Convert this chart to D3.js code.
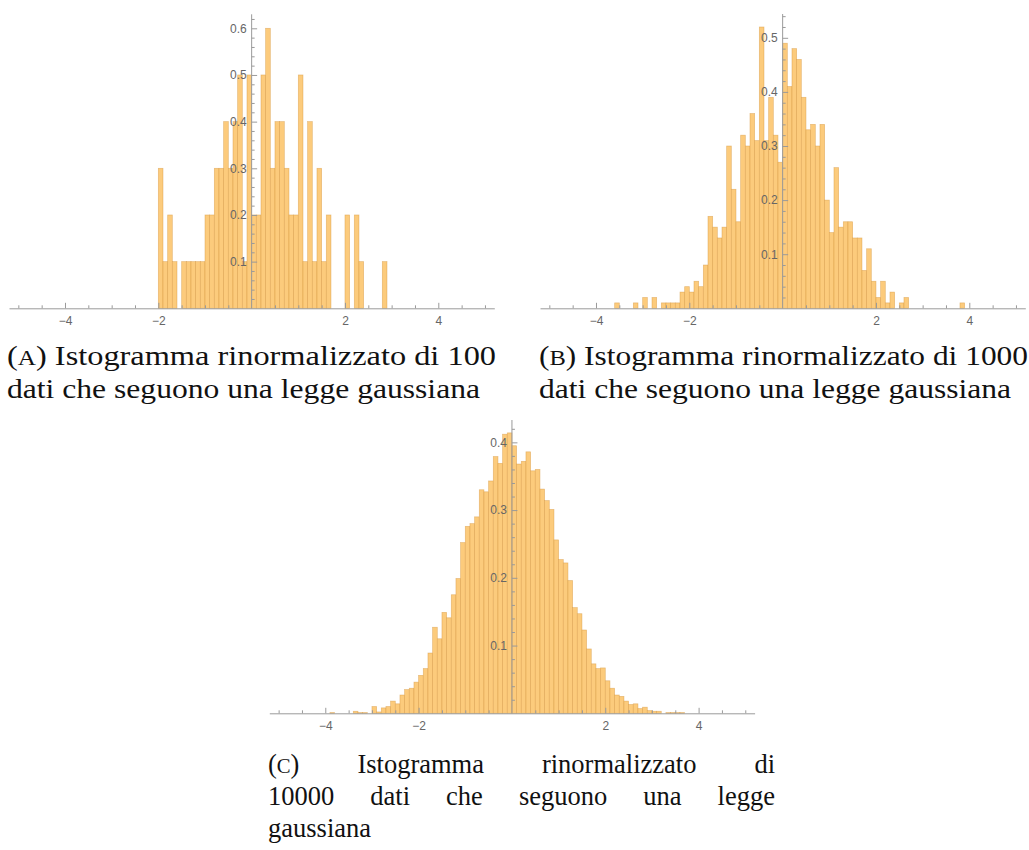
<!DOCTYPE html>
<html>
<head>
<meta charset="utf-8">
<script src="https://cdn.jsdelivr.net/npm/d3@7"></script>
<style>
  html, body { margin: 0; padding: 0; background: #fff; }
  svg { display: block; }
</style>
</head>
<body>
<svg id="chart" width="1029" height="850"></svg>
<script>
// Renormalised histograms (bin width 0.1) of Gaussian samples of size 100, 1000, 10000.
const binWidth = 0.1;

// (A) 100 samples, first bin starts at -2.0
const startA = -2.0;
const densityA = [
  0.3, 0.1, 0.2, 0.1, 0.0, 0.1, 0.1, 0.1, 0.1, 0.1,
  0.2, 0.2, 0.3, 0.3, 0.4, 0.3, 0.4, 0.5, 0.1, 0.5,
  0.2, 0.2, 0.5, 0.6, 0.3, 0.4, 0.4, 0.3, 0.2, 0.2,
  0.5, 0.1, 0.4, 0.1, 0.3, 0.1, 0.2, 0.0, 0.0, 0.0,
  0.2, 0.0, 0.2, 0.1, 0.0, 0.0, 0.0, 0.0, 0.1
];

// (B) 1000 samples, first bin starts at -3.6
const startB = -3.6;
const densityB = [
  0.01, 0.00, 0.00, 0.00, 0.01, 0.00, 0.02, 0.00, 0.02, 0.00,
  0.01, 0.01, 0.01, 0.01, 0.03, 0.04, 0.03, 0.05, 0.04, 0.08,
  0.17, 0.15, 0.13, 0.15, 0.30, 0.22, 0.16, 0.32, 0.30, 0.36,
  0.31, 0.52, 0.31, 0.39, 0.32, 0.27,
  0.49, 0.41, 0.48, 0.46, 0.39, 0.33, 0.34, 0.30, 0.34, 0.20,
  0.14, 0.26, 0.15, 0.16, 0.16, 0.13, 0.13, 0.07, 0.11, 0.05,
  0.02, 0.05, 0.01, 0.03, 0.00, 0.01, 0.02, 0.00, 0.00, 0.00,
  0.00, 0.00, 0.00, 0.00, 0.00, 0.00, 0.00, 0.00, 0.01
];

// (C) 10000 samples, first bin starts at -3.9
const startC = -3.9;
const densityC = [
  0.001, 0.000, 0.000, 0.000, 0.000, 0.003, 0.001, 0.001, 0.000, 0.010,
  0.002, 0.008, 0.010, 0.018, 0.014, 0.027, 0.035, 0.037, 0.046, 0.056,
  0.066, 0.089, 0.127, 0.110, 0.149, 0.141, 0.175, 0.199, 0.252, 0.276,
  0.280, 0.290, 0.330, 0.327, 0.343, 0.379, 0.369, 0.412, 0.414,
  0.395, 0.368, 0.372, 0.386, 0.358, 0.360, 0.331, 0.314, 0.301, 0.256,
  0.227, 0.222, 0.196, 0.156, 0.147, 0.123, 0.095, 0.073, 0.066, 0.067,
  0.048, 0.037, 0.027, 0.025, 0.018, 0.013, 0.014, 0.007, 0.009, 0.004,
  0.003, 0.003, 0.000, 0.001, 0.001, 0.001, 0.001
];

const xDomain = [-5.2, 5.2];
const xMajorTicks = [-4, -2, 0, 2, 4];
const xLabelTicks = [-4, -2, 2, 4];
const yLabelsA = [0.1, 0.2, 0.3, 0.4, 0.5, 0.6];
const yLabelsB = [0.1, 0.2, 0.3, 0.4, 0.5];
const yLabelsC = [0.1, 0.2, 0.3, 0.4];
const yMaxA = 0.63, yMaxB = 0.544, yMaxC = 0.433;

const captionA = ["Istogramma rinormalizzato di 100", "dati che seguono una legge gaussiana"];
const captionB = ["Istogramma rinormalizzato di 1000", "dati che seguono una legge gaussiana"];
const captionC = [["Istogramma", "rinormalizzato", "di"], ["10000", "dati", "che", "seguono", "una", "legge"], ["gaussiana"]];

const svg = d3.select("#chart");
const plotWidth = 485.3;

const barFill = "#fccb7c";
const barEdge = "rgba(214,150,60,0.55)";
const axisColor = "#9a9a9a";
const labelColor = "#666";

function drawHistogram(cfg) {
  const g = svg.append("g");
  const x = d3.scaleLinear().domain(xDomain).range([cfg.left, cfg.left + plotWidth]);
  const y = d3.scaleLinear().domain([0, cfg.yMax]).range([cfg.bottom, cfg.top]);

  const bins = cfg.density
    .map((v, i) => ({ x0: cfg.start + i * binWidth, x1: cfg.start + (i + 1) * binWidth, v }))
    .filter(d => d.v > 0);

  g.append("g").selectAll("rect").data(bins).join("rect")
    .attr("x", d => x(d.x0))
    .attr("width", d => x(d.x1) - x(d.x0))
    .attr("y", d => y(d.v))
    .attr("height", d => y(0) - y(d.v))
    .attr("fill", barFill)
    .attr("stroke", barEdge)
    .attr("stroke-width", 0.7);

  // x axis: minor ticks every 0.5, major ticks on even integers, ticks pointing up
  const xMinor = d3.range(-10, 11).map(k => k / 2).filter(v => v >= xDomain[0] && v <= xDomain[1] && !xMajorTicks.includes(v));
  const gxMinor = g.append("g").attr("transform", `translate(0,${cfg.bottom})`)
    .call(d3.axisBottom(x).tickValues(xMinor).tickFormat("").tickSizeInner(-3).tickSizeOuter(0));
  const gx = g.append("g").attr("transform", `translate(0,${cfg.bottom})`)
    .call(d3.axisBottom(x).tickValues(xLabelTicks).tickFormat(d => d3.format("d")(d).replace("-", "\u2212"))
      .tickSizeInner(-5.5).tickSizeOuter(0).tickPadding(8));

  // y axis at x = 0: minor ticks every 0.02, ticks pointing right
  const zeroX = x(0);
  const yMinor = d3.range(1, Math.floor(cfg.yMax / 0.02 + 1e-9) + 1).map(k => +(k * 0.02).toFixed(2))
    .filter(v => Math.abs(v * 10 - Math.round(v * 10)) > 1e-6);
  const gyMinor = g.append("g").attr("transform", `translate(${zeroX},0)`)
    .call(d3.axisLeft(y).tickValues(yMinor).tickFormat("").tickSizeInner(-3).tickSizeOuter(0));
  const gy = g.append("g").attr("transform", `translate(${zeroX},0)`)
    .call(d3.axisLeft(y).tickValues(cfg.yLabels).tickFormat(d3.format(".1f"))
      .tickSizeInner(-5.5).tickSizeOuter(0).tickPadding(5));

  [gxMinor, gx, gyMinor, gy].forEach(a => {
    a.select(".domain").attr("stroke", axisColor).attr("stroke-width", 1);
    a.selectAll(".tick line").attr("stroke", axisColor).attr("stroke-width", 1);
    a.selectAll(".tick text").attr("fill", labelColor)
      .style("font-family", "'Liberation Sans', Arial, sans-serif").style("font-size", "12px");
  });
  gyMinor.select(".domain").remove();
  gxMinor.select(".domain").remove();
  gy.select(".domain").attr("d", `M0,${cfg.bottom}V${cfg.top}`);
}

drawHistogram({ density: densityA, start: startA, left: 9.0, bottom: 308.3, top: 14.3, yMax: yMaxA, yLabels: yLabelsA });
drawHistogram({ density: densityB, start: startB, left: 540.0, bottom: 308.3, top: 14.0, yMax: yMaxB, yLabels: yLabelsB });
drawHistogram({ density: densityC, start: startC, left: 269.3, bottom: 713.3, top: 420.0, yMax: yMaxC, yLabels: yLabelsC });

// Captions
const capFont = "'Liberation Serif', 'Times New Roman', serif";
const capSize = 26.5;

function labelTag(t, letter) {
  t.append("tspan").text("(");
  t.append("tspan").text(letter).style("font-size", (capSize * 0.78) + "px");
  t.append("tspan").text(")");
}

function captionLine(x, yBase, width, letter, text) {
  const t = svg.append("text").attr("x", x).attr("y", yBase)
    .style("font-family", capFont).style("font-size", capSize + "px").attr("fill", "#111");
  if (letter) { labelTag(t, letter); t.append("tspan").text(" " + text); }
  else t.text(text);
  t.attr("textLength", width).attr("lengthAdjust", "spacingAndGlyphs");
}

captionLine(7, 365, 489, "A", captionA[0]);
captionLine(7, 398, 473, null, captionA[1]);
captionLine(539, 365, 489, "B", captionB[0]);
captionLine(539, 398, 472, null, captionB[1]);

// Justified caption for (C)
function justifiedLine(words, x0, x1, yBase, withTag, justify) {
  const g = svg.append("g");
  const items = [];
  if (withTag) {
    const t = g.append("text").attr("y", yBase).style("font-family", capFont).style("font-size", capSize + "px").attr("fill", "#111");
    labelTag(t, "C");
    items.push(t);
  }
  words.forEach(w => {
    items.push(g.append("text").attr("y", yBase).text(w)
      .style("font-family", capFont).style("font-size", capSize + "px").attr("fill", "#111"));
  });
  const widths = items.map(t => t.node().getComputedTextLength());
  const total = d3.sum(widths);
  const gap = justify ? (x1 - x0 - total) / (items.length - 1) : capSize * 0.3;
  let cx = x0;
  items.forEach((t, i) => { t.attr("x", cx); cx += widths[i] + gap; });
}

justifiedLine(captionC[0], 268, 775, 773, true, true);
justifiedLine(captionC[1], 268, 775, 805, false, true);
justifiedLine(captionC[2], 268, 775, 837, false, false);
</script>
</body>
</html>
